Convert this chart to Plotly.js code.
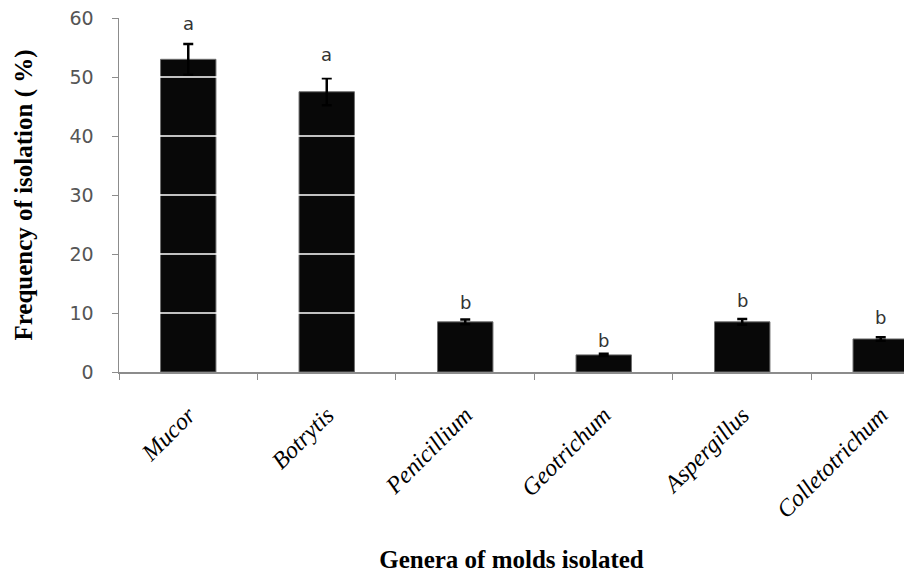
<!DOCTYPE html>
<html>
<head>
<meta charset="utf-8">
<script src="https://cdn.plot.ly/plotly-3.0.1.min.js"></script>
<style>html,body{margin:0;padding:0;background:#fff;}#chart{width:904px;height:573px;}</style>
</head>
<body>
<div id="chart"></div>
<script>
// Data
const genera = ["Mucor", "Botrytis", "Penicillium", "Geotrichum", "Aspergillus", "Colletotrichum"];
const frequency = [53.0, 47.5, 8.5, 2.9, 8.5, 5.6];
const stdError = [2.6, 2.3, 0.4, 0.2, 0.5, 0.3];
const letters = ["a", "a", "b", "b", "b", "b"];
const letterY = [59.0, 53.8, 11.7, 5.3, 12.2, 9.2];
const yTicks = [0, 10, 20, 30, 40, 50, 60];

const bars = {
  type: "bar",
  x: genera,
  y: frequency,
  width: 0.4,
  marker: { color: "#080808", line: { color: "#6e6e6e", width: 1 } },
  error_y: { type: "data", array: stdError, visible: true, color: "#000", thickness: 2.5, width: 5 },
  hoverinfo: "x+y"
};

const annotations = genera.map((g, i) => ({
  x: g, y: letterY[i], xref: "x", yref: "y",
  text: letters[i], showarrow: false, yanchor: "middle",
  font: { family: "DejaVu Sans, sans-serif", size: 18, color: "#333" }
}));

const shapes = yTicks.filter(v => v > 0 && v < 60).map(v => ({
  type: "line", xref: "paper", yref: "y", x0: 0, x1: 1, y0: v, y1: v,
  layer: "above", line: { color: "white", width: 1.5 }
}));

const layout = {
  width: 904, height: 573,
  margin: { l: 119, r: 0, t: 18, b: 201 },
  paper_bgcolor: "#fff", plot_bgcolor: "#fff",
  showlegend: false,
  xaxis: {
    type: "category",
    range: [-0.5, 5.168],
    showline: true, linecolor: "#8c8c8c", linewidth: 1.5,
    ticks: "outside", tickson: "boundaries", ticklen: 6, tickcolor: "#8c8c8c", tickwidth: 1,
    tickangle: -45,
    ticklabelstandoff: 18,
    tickfont: { family: "Liberation Serif, serif", size: 24, color: "#000", style: "italic" },
    showgrid: false, zeroline: false,
    title: { text: "<b>Genera of molds isolated</b>", standoff: 34,
      font: { family: "Liberation Serif, serif", size: 25, color: "#000" } }
  },
  yaxis: {
    range: [0, 60],
    tickvals: yTicks,
    showline: true, linecolor: "#8c8c8c", linewidth: 1.5,
    ticks: "outside", ticklen: 6, tickcolor: "#8c8c8c", tickwidth: 1,
    ticklabelstandoff: 14,
    tickfont: { family: "DejaVu Sans, sans-serif", size: 19, color: "#555" },
    showgrid: false, zeroline: false,
    title: { text: "<b>Frequency of isolation ( %)</b>", standoff: 30,
      font: { family: "Liberation Serif, serif", size: 25, color: "#000" } }
  },
  annotations: annotations,
  shapes: shapes,
  bargap: 0.6
};

Plotly.newPlot("chart", [bars], layout, { displayModeBar: false, staticPlot: true });
</script>
</body>
</html>
